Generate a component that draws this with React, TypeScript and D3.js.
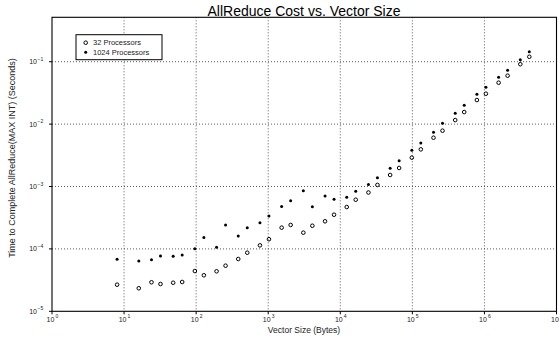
import React from "react";
import * as d3 from "d3";

const vectorSizes = [
  8, 16, 24, 32, 48, 64, 96, 128, 192, 256, 384, 512, 768, 1024, 1536, 2048,
  3072, 4096, 6144, 8192, 12288, 16384, 24576, 32768, 49152, 65536, 98304,
  131072, 196608, 262144, 393216, 524288, 786432, 1048576, 1572864, 2097152,
  3145728, 4194304,
];

const procs32 = [
  2.67e-5, 2.34e-5, 2.92e-5, 2.74e-5, 2.87e-5, 2.95e-5, 4.42e-5, 3.78e-5,
  4.38e-5, 5.38e-5, 6.89e-5, 8.69e-5, 1.14e-4, 1.43e-4, 2.19e-4, 2.42e-4,
  1.82e-4, 2.35e-4, 2.77e-4, 3.53e-4, 4.69e-4, 6.14e-4, 8.01e-4, 1.06e-3,
  1.53e-3, 1.98e-3, 2.9e-3, 3.94e-3, 6.05e-3, 7.84e-3, 1.16e-2, 1.56e-2,
  2.43e-2, 3.07e-2, 4.61e-2, 5.97e-2, 9.12e-2, 1.2e-1,
];

const procs1024 = [
  6.81e-5, 6.4e-5, 6.71e-5, 7.69e-5, 7.61e-5, 7.98e-5, 1.007e-4, 1.52e-4,
  1.06e-4, 2.42e-4, 1.61e-4, 2.19e-4, 2.63e-4, 3.37e-4, 4.78e-4, 5.92e-4,
  8.57e-4, 4.75e-4, 7.04e-4, 6.24e-4, 6.71e-4, 8.38e-4, 1.08e-3, 1.38e-3,
  1.96e-3, 2.59e-3, 3.8e-3, 4.98e-3, 7.39e-3, 1.03e-2, 1.49e-2, 2.0e-2,
  3.0e-2, 3.9e-2, 5.62e-2, 7.28e-2, 1.08e-1, 1.44e-1,
];

const xTickExps = [0, 1, 2, 3, 4, 5, 6, 7];
const yTickExps = [-5, -4, -3, -2, -1];

const title = "AllReduce Cost vs. Vector Size";
const xLabel = "Vector Size (Bytes)";
const yLabel = "Time to Complete AllReduce(MAX INT) (Seconds)";
const legendLabels = ["32 Processors", "1024 Processors"];

const W = 560;
const H = 339;
const L = 52;
const R = 556.5;
const T = 17.3;
const B = 311.3;

export default function App() {
  const x = d3.scaleLog().domain([1, 1e7]).range([L, R]);
  const y = d3.scaleLog().domain([1e-5, 0.515]).range([B, T]);
  const font = "'Liberation Sans', Arial, Helvetica, sans-serif";

  return (
    <svg
      width={W}
      height={H}
      style={{ position: "absolute", left: 0, top: 0, background: "#fff" }}
      fontFamily={font}
    >
      <rect x={0} y={0} width={W} height={H} fill="#fff" />
      {/* grid */}
      {xTickExps.slice(1, -1).map((e) => (
        <line
          key={"gx" + e}
          x1={x(10 ** e)}
          x2={x(10 ** e)}
          y1={T}
          y2={B}
          stroke="#333"
          strokeWidth={0.8}
          strokeDasharray="1 2"
        />
      ))}
      {yTickExps.slice(1).map((e) => (
        <line
          key={"gy" + e}
          x1={L}
          x2={R}
          y1={y(10 ** e)}
          y2={y(10 ** e)}
          stroke="#333"
          strokeWidth={0.8}
          strokeDasharray="1 2"
        />
      ))}
      {/* frame */}
      <rect x={L} y={T} width={R - L} height={B - T} fill="none" stroke="#000" strokeWidth={1.1} />
      {/* ticks */}
      {xTickExps.map((e) => (
        <g key={"xt" + e}>
          <line x1={x(10 ** e)} x2={x(10 ** e)} y1={B} y2={B + 3} stroke="#000" strokeWidth={1} />
          <text x={x(10 ** e) - 1.5} y={322} fontSize={7} textAnchor="middle" fill="#222">
            10
          </text>
          <text x={x(10 ** e) + 3.5} y={318} fontSize={5} textAnchor="start" fill="#222">
            {e}
          </text>
        </g>
      ))}
      {yTickExps.map((e) => (
        <g key={"yt" + e}>
          <line x1={L - 3} x2={L} y1={y(10 ** e)} y2={y(10 ** e)} stroke="#000" strokeWidth={1} />
          <text x={37} y={y(10 ** e) + 2.5} fontSize={7} textAnchor="end" fill="#222">
            10
          </text>
          <text x={37.5} y={y(10 ** e) - 1} fontSize={5} textAnchor="start" fill="#222">
            {String(e).replace("-", "\u2212")}
          </text>
        </g>
      ))}
      {/* data */}
      {vectorSizes.map((v, i) => (
        <circle
          key={"a" + i}
          cx={x(v)}
          cy={y(procs32[i])}
          r={1.8}
          fill="none"
          stroke="#000"
          strokeWidth={1}
        />
      ))}
      {vectorSizes.map((v, i) => (
        <circle key={"b" + i} cx={x(v)} cy={y(procs1024[i])} r={1.5} fill="#000" />
      ))}
      {/* legend */}
      <rect x={76} y={34.7} width={86} height={25} fill="#fff" stroke="#000" strokeWidth={1} />
      <circle cx={85.7} cy={42.7} r={1.8} fill="none" stroke="#000" strokeWidth={1} />
      <circle cx={85.7} cy={52.3} r={1.5} fill="#000" />
      <text x={93} y={45.2} fontSize={7.5} fill="#222">
        {legendLabels[0]}
      </text>
      <text x={93} y={54.8} fontSize={7.5} fill="#222">
        {legendLabels[1]}
      </text>
      {/* labels */}
      <text x={304} y={15.5} fontSize={14} textAnchor="middle" fill="#000">
        {title}
      </text>
      <text x={304} y={333} fontSize={8.5} textAnchor="middle" fill="#222">
        {xLabel}
      </text>
      <text
        transform={`translate(15, 158) rotate(-90)`}
        fontSize={9}
        textAnchor="middle"
        fill="#222"
      >
        {yLabel}
      </text>
    </svg>
  );
}
